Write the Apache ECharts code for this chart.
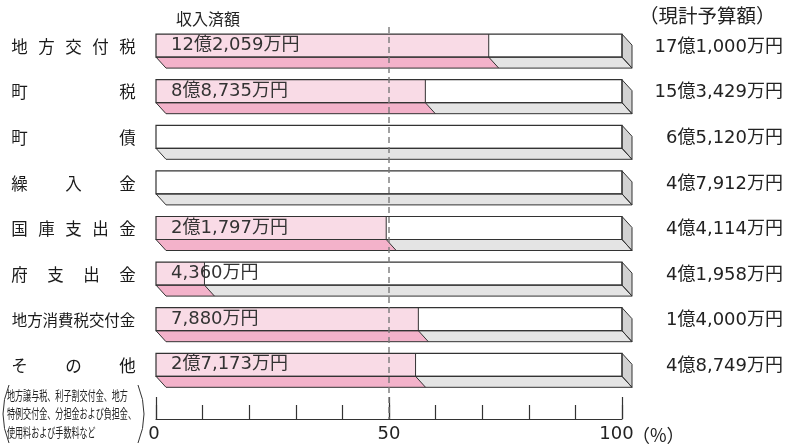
<!DOCTYPE html>
<html><head><meta charset="utf-8">
<script src="https://cdn.jsdelivr.net/npm/echarts@6/dist/echarts.min.js"></script>
<style>html,body{margin:0;padding:0;background:#fff}#c{width:787px;height:445px}</style>
</head><body><div id="c"></div>
<script>
const categories = ['地方交付税','町税','町債','繰入金','国庫支出金','府支出金','地方消費税交付金','その他'];
const ratePercent = [71.4, 57.8, 0, 0, 49.4, 10.4, 56.3, 55.7];
const collectedLabels = ['12億2,059万円','8億8,735万円','','','2億1,797万円','4,360万円','7,880万円','2億7,173万円'];
const budgetLabels = ['17億1,000万円','15億3,429万円','6億5,120万円','4億7,912万円','4億4,114万円','4億1,958万円','1億4,000万円','4億8,749万円'];
const xTickLabels = ['0','50','100'];
const refLine = [50];
const noteLines = ['地方譲与税、利子割交付金、地方','特例交付金、分担金および負担金、','使用料および手数料など'];

const FONT_NUM = '"DejaVu Sans","Noto Sans CJK JP",sans-serif';
const FONT_JP = '"Noto Sans CJK JP",sans-serif';
const DX = 10, DY = 11, HALF = 11.5;
const INK = '#333';

function txt(text, x, y, size, family, align, fill) {
  return {type:'text', style:{text:text, x:x, y:y, fontSize:size, fontFamily:family, fill:fill||'#222',
    align:align, textAlign:align, verticalAlign:'middle', textVerticalAlign:'middle'}};
}

function renderBar(params, api) {
  const idx = api.value(0), v = api.value(1);
  const p0 = api.coord([0, idx]);
  const p1 = api.coord([100, idx]);
  const pv = api.coord([v, idx]);
  const x0 = p0[0], x1 = p1[0], xv = pv[0], cy = p0[1];
  const t = cy - HALF, b = cy + HALF;
  const ch = [];
  ch.push({type:'rect', shape:{x:x0,y:t,width:x1-x0,height:b-t}, style:{fill:'#ffffff'}});
  if (v > 0) ch.push({type:'rect', shape:{x:x0,y:t,width:xv-x0,height:b-t}, style:{fill:'#f9dbe6'}});
  const bottom = [[x0,b],[x1,b],[x1+DX,b+DY],[x0+DX,b+DY]];
  ch.push({type:'polygon', shape:{points:bottom}, style:{fill:'#e4e4e4'}});
  if (v > 0) ch.push({type:'polygon', shape:{points:[[x0,b],[xv,b],[xv+DX,b+DY],[x0+DX,b+DY]]}, style:{fill:'#f3b2ca'}});
  ch.push({type:'polygon', shape:{points:[[x1,t],[x1+DX,t+DY],[x1+DX,b+DY],[x1,b]]}, style:{fill:'#d2d2d2', stroke:INK, lineWidth:1}});
  ch.push({type:'polygon', shape:{points:bottom}, style:{fill:null, stroke:INK, lineWidth:1}});
  ch.push({type:'rect', shape:{x:x0,y:t,width:x1-x0,height:b-t}, style:{fill:null, stroke:INK, lineWidth:1.2}});
  if (v > 0) {
    ch.push({type:'line', shape:{x1:xv,y1:t,x2:xv,y2:b}, style:{stroke:INK, lineWidth:1}});
    ch.push({type:'line', shape:{x1:xv,y1:b,x2:xv+DX,y2:b+DY}, style:{stroke:INK, lineWidth:1}});
  }
  const cl = collectedLabels[idx];
  if (cl) ch.push(txt(cl, x0 + 15, cy, 18, FONT_NUM, 'left', '#333'));
  ch.push(txt(budgetLabels[idx], 783, cy + 1.5, 18, FONT_NUM, 'right', '#222'));
  const chars = categories[idx].split('');
  const n = chars.length;
  const fs = n >= 7 ? 15.5 : 16.5;
  chars.forEach((c, i) => {
    const cx = n === 1 ? 73.5 : 19.5 + i * (108 / (n - 1));
    ch.push(txt(c, cx, cy + 1, fs, FONT_JP, 'center', '#1a1a1a'));
  });
  return {type:'group', children:ch};
}

function renderRef(params, api) {
  const x = api.coord([api.value(0), 0])[0];
  return {type:'line', shape:{x1:x,y1:27,x2:x,y2:419}, style:{stroke:'#7a7a7a', lineWidth:1.4, lineDash:[6,4]}};
}

const chart = echarts.init(document.getElementById('c'), null, {renderer:'canvas'});
const axisCommon = {
  type:'value', min:0, max:100, position:'bottom', offset:31.4,
  splitLine:{show:false}
};
chart.setOption({
  animation:false,
  backgroundColor:'#fff',
  grid:{left:156, width:466, top:22.8, height:364.8, containLabel:false, outerBoundsMode:'none'},
  xAxis:[
    Object.assign({}, axisCommon, {
      interval:10,
      axisLine:{show:true, lineStyle:{color:INK, width:1.2}},
      axisTick:{show:true, inside:true, length:14, lineStyle:{color:INK, width:1.2}},
      axisLabel:{show:true, margin:6, fontSize:18, fontFamily:FONT_NUM, color:'#222',
        formatter: v => {
          const s = String(v);
          if (xTickLabels.indexOf(s) < 0) return '';
          if (s === '100') return '{r|' + s + '}';
          if (s === '0') return '{l|' + s + '}';
          return s;
        },
        rich:{
          r:{fontSize:18, fontFamily:FONT_NUM, color:'#222', padding:[0,11,0,0]},
          l:{fontSize:18, fontFamily:FONT_NUM, color:'#222', padding:[0,4,0,0]}
        }}
    }),
    Object.assign({}, axisCommon, {
      interval:50,
      axisLine:{show:false},
      axisTick:{show:true, inside:true, length:22, lineStyle:{color:INK, width:1.2}},
      axisLabel:{show:false}
    })
  ],
  yAxis:{type:'category', data:categories, inverse:true, show:false},
  graphic:[
    {type:'text', x:176, y:19, style:{text:'収入済額', fontSize:16, fontFamily:FONT_JP, fill:'#222', verticalAlign:'middle'}},
    {type:'text', x:639, y:16, style:{text:'（現計予算額）', fontSize:19.5, fontFamily:FONT_JP, fill:'#222', verticalAlign:'middle'}},
    {type:'text', x:632, y:435, style:{text:'（%）', fontSize:18, fontFamily:FONT_JP, fill:'#222', verticalAlign:'middle'}},
    ...noteLines.map((s, i) => ({type:'text', x:7, y:395 + i * 18.3, scaleX:0.62,
      style:{text:s, fontSize:13, fontFamily:FONT_JP, fill:'#222', verticalAlign:'middle'}})),
    {type:'bezierCurve', shape:{x1:9, y1:385, cpx1:-3, cpy1:414, x2:9, y2:443}, style:{stroke:'#333', lineWidth:1, fill:null}},
    {type:'bezierCurve', shape:{x1:138, y1:385, cpx1:150, cpy1:414, x2:138, y2:443}, style:{stroke:'#333', lineWidth:1, fill:null}}
  ],
  series:[
    {type:'custom', name:'bars', renderItem:renderBar, encode:{x:1, y:0}, z:2,
      data: ratePercent.map((v, i) => [i, v])},
    {type:'custom', name:'ref', renderItem:renderRef, encode:{x:0}, z:3, xAxisIndex:0,
      data: refLine.map(v => [v])}
  ]
});
</script></body></html>
